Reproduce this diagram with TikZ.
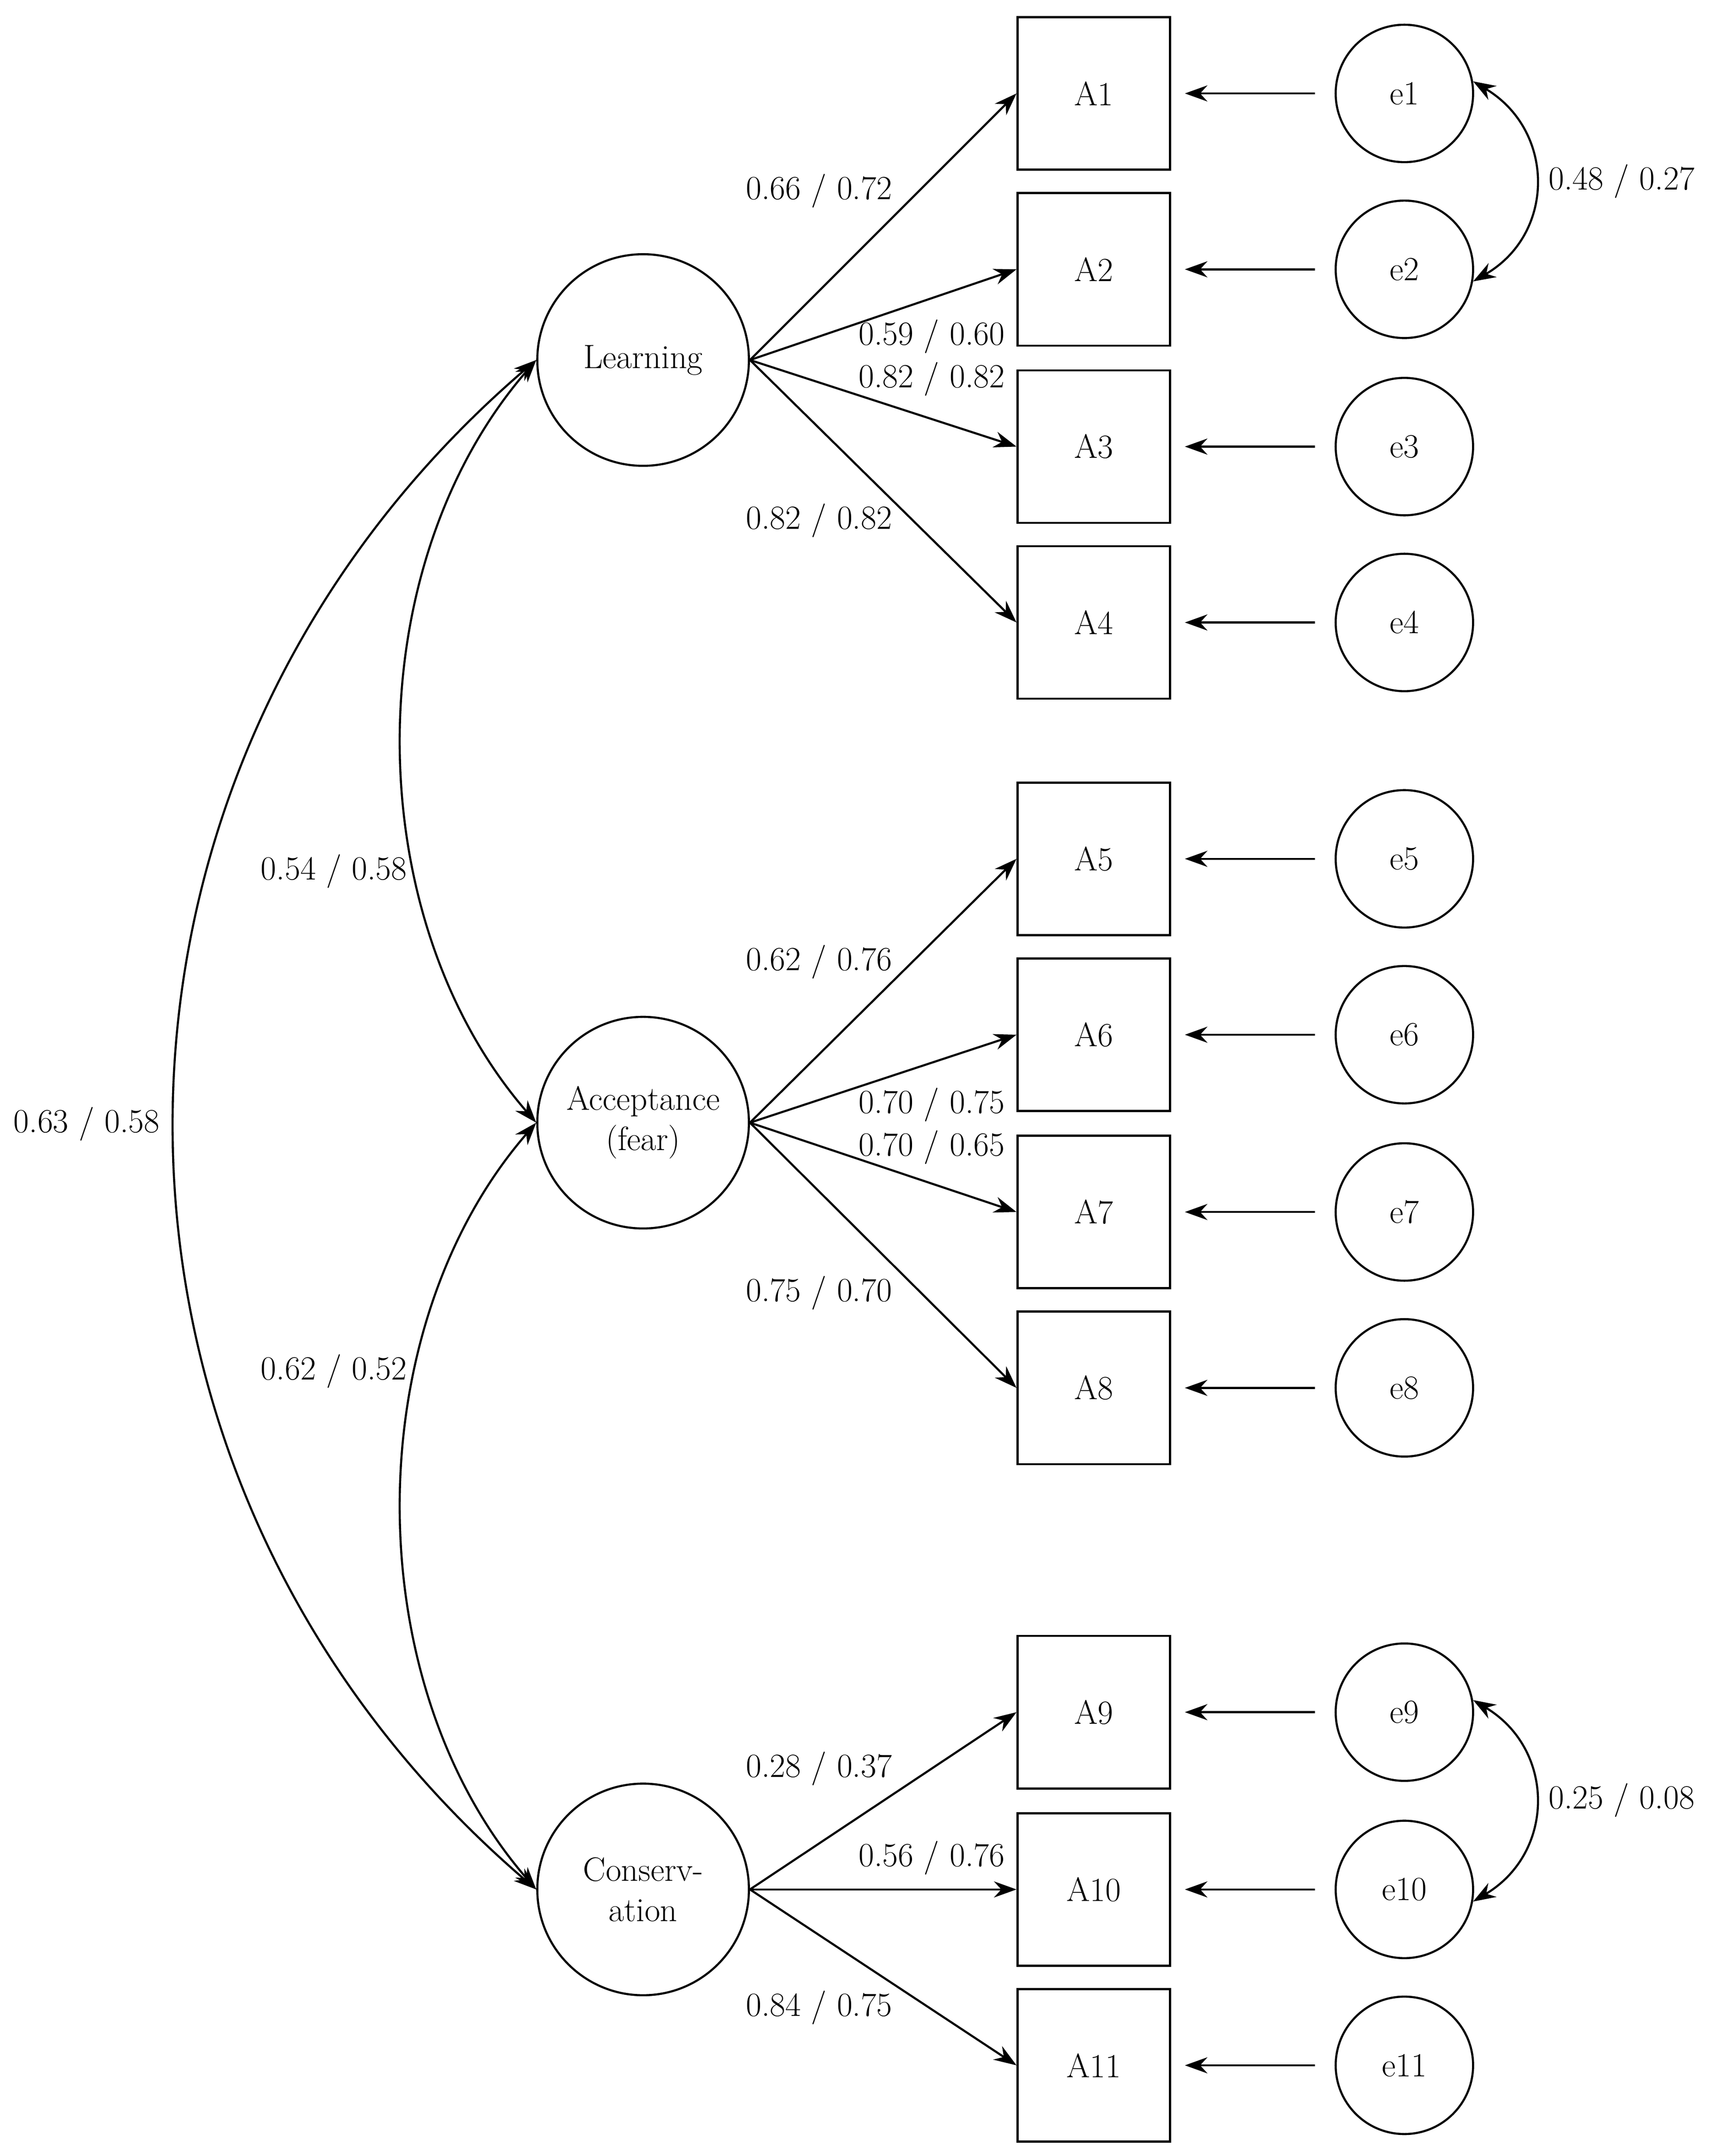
\documentclass[tikz,border=0pt]{standalone}
\usetikzlibrary{arrows.meta}
\begin{document}
\begin{tikzpicture}[x=0.03cm,y=-0.03cm,
  every node/.style={font=\fontsize{21}{25}\selectfont},
  lat/.style={draw,circle,line width=1.3pt,minimum size=4.62cm,inner sep=0pt,align=center},
  err/.style={draw,circle,line width=1.3pt,minimum size=3cm,inner sep=0pt},
  obs/.style={draw,rectangle,line width=1.3pt,minimum size=3.33cm,inner sep=0pt},
  arr/.style={line width=1.3pt,-{Stealth[length=14pt,width=10pt]}},
  darr/.style={line width=1.3pt,{Stealth[length=14pt,width=10pt]}-{Stealth[length=14pt,width=10pt]}},
  lab/.style={inner sep=1pt}]
\useasboundingbox (0,0) rectangle (1245,1569);
\node[lat] (L) at (468,262) {Learning};
\node[lat] (F) at (468,817) {Acceptance\\(fear)};
\node[lat] (C) at (468,1375) {Conserv-\\ation};
\foreach \i/\y in {1/68,2/196,3/325,4/453,5/625,6/753,7/882,8/1010,9/1246,10/1375,11/1503}{
  \node[obs] (A\i) at (796,\y) {A\i};
  \node[err] (e\i) at (1022,\y) {e\i};
  \coordinate (s\i) at (957,\y);
  \draw[arr] (s\i) -- ([xshift=0.3cm]A\i.east);
}
\foreach \i in {1,2,3,4}{\draw[arr] (L.east) -- (A\i.west);}
\foreach \i in {5,6,7,8}{\draw[arr] (F.east) -- (A\i.west);}
\foreach \i in {9,10,11}{\draw[arr] (C.east) -- (A\i.west);}
\node[lab] (l1) at (596,139) {0.66 / 0.72};
\node[lab] (l2) at (678,245) {0.59 / 0.60};
\node[lab] (l3) at (678,276) {0.82 / 0.82};
\node[lab] (l4) at (596,379) {0.82 / 0.82};
\node[lab] (l5) at (596,700) {0.62 / 0.76};
\node[lab] (l6) at (678,804) {0.70 / 0.75};
\node[lab] (l7) at (678,835) {0.70 / 0.65};
\node[lab] (l8) at (596,941) {0.75 / 0.70};
\node[lab] (l9) at (596,1287) {0.28 / 0.37};
\node[lab] (l10) at (678,1352) {0.56 / 0.76};
\node[lab] (l11) at (596,1461) {0.84 / 0.75};
\draw[darr] (L.west) .. controls (260,412) and (260,667) .. (F.west);
\draw[darr] (F.west) .. controls (260,967) and (260,1225) .. (C.west);
\draw[darr] (L.west) .. controls (40,562) and (40,1075) .. (C.west);
\node[lab] (c1) at (243,634) {0.54 / 0.58};
\node[lab] (c2) at (243,998) {0.62 / 0.52};
\node[lab] (c3) at (63,818) {0.63 / 0.58};
\draw[darr] (e1.10) .. controls (1132,95) and (1132,170) .. (e2.-10);
\draw[darr] (e9.10) .. controls (1132,1273) and (1132,1348) .. (e10.-10);
\node[lab] (c4) at (1180,132) {0.48 / 0.27};
\node[lab] (c5) at (1180,1310) {0.25 / 0.08};
\end{tikzpicture}
\end{document}
